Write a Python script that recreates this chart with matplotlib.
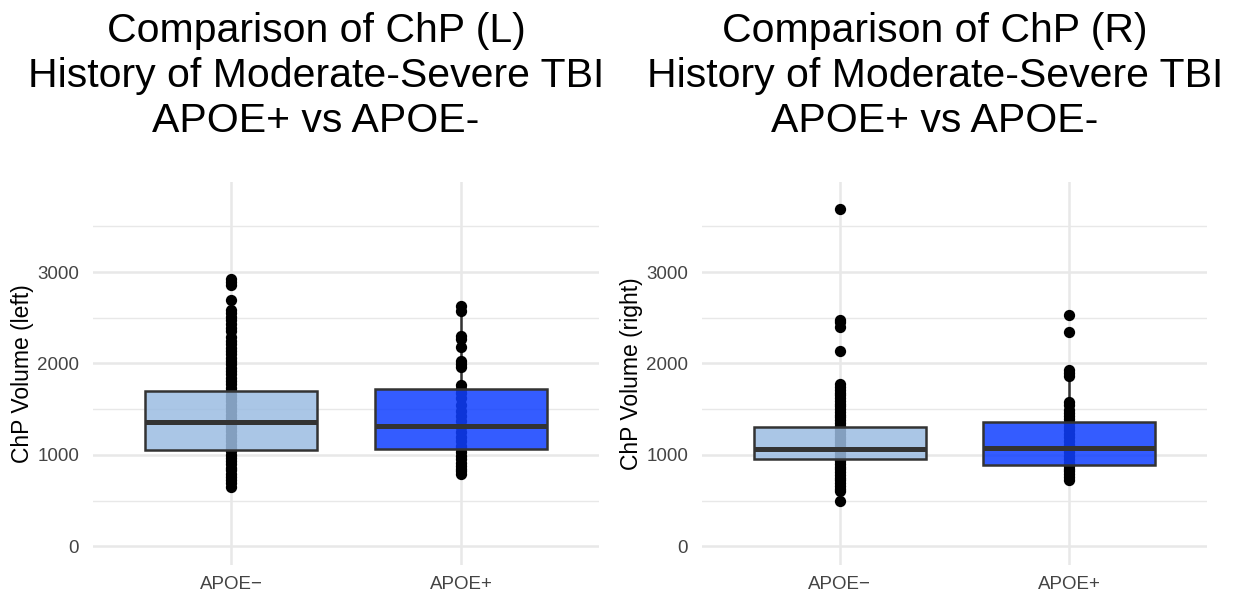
import matplotlib
matplotlib.use("Agg")
import matplotlib.pyplot as plt
from matplotlib.patches import Rectangle

plt.rcParams['font.family'] = ['Liberation Sans', 'DejaVu Sans']

groups = ["APOE\u2212", "APOE+"]

# box stats per side: (q1, median, q3, whisker_low, whisker_high)
left_stats = [(1053, 1356, 1703, 650, 2590),
              (1067, 1316, 1721, 790, 2630)]
right_stats = [(951, 1067, 1305, 490, 1780),
               (888, 1071, 1363, 730, 1930)]

left_neg = [650, 690, 720, 760, 790, 830, 860, 900, 930, 970, 1000, 1040,
            1070, 1110, 1150, 1180, 1220, 1260, 1290, 1330, 1370, 1400,
            1440, 1480, 1510, 1550, 1590, 1620, 1660, 1700, 1730, 1770,
            1810, 1840, 1880, 1920, 1950, 1990, 2030, 2060, 2100, 2140,
            2170, 2210, 2250, 2290, 2350, 2390, 2430, 2470, 2510, 2550,
            2590, 2690, 2860, 2890, 2920]
left_pos = [790, 820, 850, 880, 910, 950, 990, 1030, 1080, 1100, 1150,
            1200, 1250, 1300, 1370, 1420, 1480, 1540, 1620, 1680, 1720,
            1760, 1960, 1990, 2030, 2180, 2270, 2300, 2570, 2630]
right_neg = [490, 600, 630, 660, 690, 720, 750, 780, 810, 840, 870, 900,
             930, 960, 990, 1020, 1050, 1080, 1110, 1140, 1170, 1200,
             1230, 1260, 1290, 1320, 1350, 1380, 1410, 1440, 1470, 1500,
             1530, 1560, 1590, 1620, 1650, 1680, 1710, 1740, 1780, 2140,
             2400, 2450, 2480, 3695]
right_pos = [730, 760, 790, 820, 850, 880, 910, 950, 990, 1030, 1070,
             1110, 1150, 1190, 1230, 1270, 1310, 1350, 1390, 1430, 1460,
             1490, 1540, 1580, 1860, 1900, 1930, 2340, 2530]

fills = [(155/255, 188/255, 226/255, 0.85), (16/255, 63/255, 255/255, 0.85)]
edge = "#333333"
grid_c = "#e8e8e8"
tick_c = "#444444"

fig = plt.figure(figsize=(12.34, 5.92), dpi=100)
ax_l = fig.add_axes([93/1234, 1 - 565/592, 506/1234, 383/592])
ax_r = fig.add_axes([702/1234, 1 - 565/592, 505/1234, 383/592])


def draw_panel(ax, stats, points, ylabel):
    ax.set_xlim(0.4, 2.6)
    ax.set_ylim(-205, 3985)
    for s in ["top", "right", "bottom", "left"]:
        ax.spines[s].set_visible(False)
    for y in [0, 1000, 2000, 3000]:
        ax.axhline(y, color=grid_c, lw=1.8, zorder=0)
    for y in [500, 1500, 2500, 3500]:
        ax.axhline(y, color=grid_c, lw=1.0, zorder=0)
    for x in [1, 2]:
        ax.axvline(x, color=grid_c, lw=1.8, zorder=0)

    for i, (st, pts) in enumerate(zip(stats, points)):
        x = i + 1
        q1, med, q3, wlo, whi = st
        ax.plot([x, x], [q3, whi], color=edge, lw=1.8, zorder=1)
        ax.plot([x, x], [wlo, q1], color=edge, lw=1.8, zorder=1)
        ax.scatter([x] * len(pts), pts, s=66, color="black", zorder=2,
                   linewidths=0)
        w = 0.75
        ax.add_patch(Rectangle((x - w / 2, q1), w, q3 - q1, facecolor=fills[i],
                               edgecolor="none", zorder=3))
        ax.add_patch(Rectangle((x - w / 2, q1), w, q3 - q1, facecolor="none",
                               edgecolor=edge, lw=1.8, zorder=4))
        ax.plot([x - w / 2, x + w / 2], [med, med], color=edge, lw=3.6,
                zorder=5, solid_capstyle="butt")

    ax.set_xticks([1, 2])
    ax.set_xticklabels(groups)
    ax.set_yticks([0, 1000, 2000, 3000])
    ax.tick_params(axis="both", length=0, labelsize=13.5, labelcolor=tick_c)
    ax.tick_params(axis="y", pad=10)
    ax.tick_params(axis="x", pad=8)
    ax.set_ylabel(ylabel, fontsize=16.5, color="black", labelpad=2)


draw_panel(ax_l, left_stats, [left_neg, left_pos], "ChP Volume (left)")
draw_panel(ax_r, right_stats, [right_neg, right_pos], "ChP Volume (right)")

titles = [
    (316, ["Comparison of ChP (L)", "History of Moderate-Severe TBI", "APOE+ vs APOE-"]),
    (935, ["Comparison of ChP (R)", "History of Moderate-Severe TBI", "APOE+ vs APOE-"]),
]
for xc, lines in titles:
    for k, line in enumerate(lines):
        fig.text(xc / 1234, 1 - (31 + 45 * k) / 592, line, ha="center",
                 va="center", fontsize=29.5, color="black")

fig.savefig("out.png", dpi=100)
